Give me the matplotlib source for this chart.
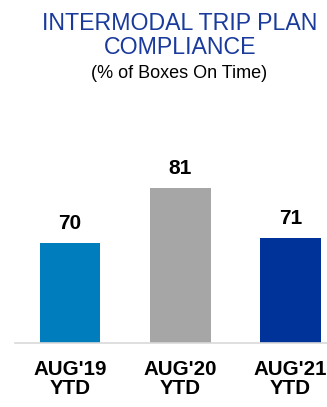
import matplotlib
matplotlib.use("Agg")
import matplotlib.pyplot as plt

# data
categories = ["AUG'19\nYTD", "AUG'20\nYTD", "AUG'21\nYTD"]
values = [70, 81, 71]
colors = ['#007DBC', '#A6A6A6', '#003399']

plt.rcParams['font.family'] = ['Liberation Sans', 'DejaVu Sans']

W, H = 327, 407
fig = plt.figure(figsize=(W / 100, H / 100), dpi=100)
ax = fig.add_axes([15 / W, (H - 343) / H, (W - 15) / W, 193 / H])

x = range(len(values))
ax.bar(x, [v - 50 for v in values], bottom=50, width=0.55, color=colors)
ax.set_xlim(-0.5, 2.33)
ax.set_ylim(50, 50 + 193 / 5)

for i, v in enumerate(values):
    ax.annotate(str(v), (i, v), xytext=(0, 7), textcoords='offset points',
                ha='center', va='bottom', fontsize=15, fontweight='bold')

for s in ['top', 'right', 'left']:
    ax.spines[s].set_visible(False)
ax.spines['bottom'].set_color('#D9D9D9')
ax.spines['bottom'].set_linewidth(1.2)
ax.set_yticks([])
ax.set_xticks(list(x))
ax.set_xticklabels(categories, fontsize=14.8, fontweight='bold', linespacing=1.0)
ax.tick_params(axis='x', length=0, pad=12)

# title: no narrow font installed, so fit line 1 to about the reference width
t1 = fig.text(180 / W, 1 - 24 / H, 'INTERMODAL TRIP PLAN', ha='center', va='center',
              fontsize=20, color='#1A3A9C')
fig.canvas.draw()
w = t1.get_window_extent().width
fs = 20 * 275 / w
t1.set_fontsize(fs)
fig.text(180 / W, 1 - 48 / H, 'COMPLIANCE', ha='center', va='center',
         fontsize=fs, color='#1A3A9C')
fig.text(179 / W, 1 - 73 / H, '(% of Boxes On Time)', ha='center', va='center',
         fontsize=13, color='black')

plt.savefig('out.png', dpi=100)
